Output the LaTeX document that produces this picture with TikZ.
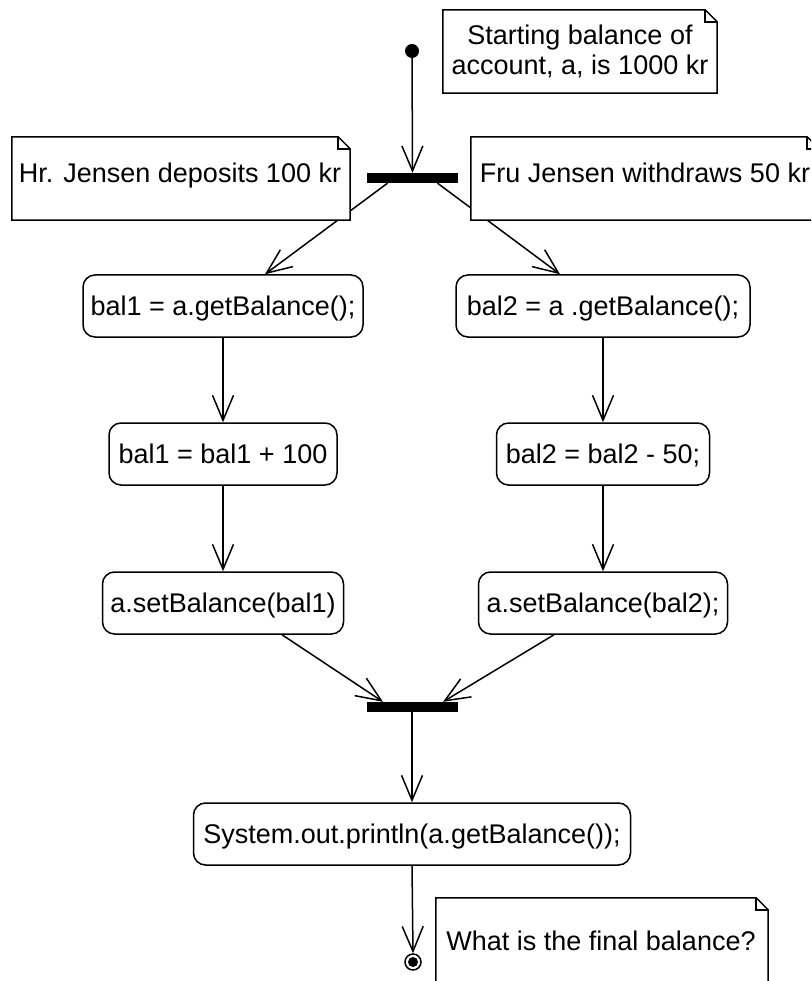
\documentclass[tikz,border=0pt]{standalone}
\usepackage{fontspec}
\setmainfont{Liberation Sans}
\usetikzlibrary{arrows.meta,calc}
\tikzset{
  ln/.style={line width=1.5pt},
  arr/.style={ln, -{Straight Barb[length=25pt,width=21pt]}},
  act/.style={draw, ln, rounded corners=12pt, minimum height=62pt, inner xsep=6pt, inner ysep=0pt, text height=19.3pt, text depth=0pt, font=\fontsize{27}{30}\selectfont},
  txt/.style={inner sep=0pt, font=\fontsize{27}{30}\selectfont},
  notearea/.style={draw=none, inner sep=0pt},
  bar/.style={fill=black, inner sep=0pt, minimum width=91pt, minimum height=10pt},
}
\newcommand{\drawnote}[1]{%
  \draw[ln, fill=white, line join=miter] (#1.north west) -- ($(#1.north east)+(-12pt,0pt)$) -- ($(#1.north east)+(0pt,-12pt)$) -- (#1.south east) -- (#1.south west) -- cycle;
  \draw[ln] ($(#1.north east)+(-12pt,0pt)$) |- ($(#1.north east)+(0pt,-12pt)$);}
\begin{document}
\begin{tikzpicture}[x=1pt,y=-1pt]
\useasboundingbox (0,0) rectangle (811,981);
\fill[white] (0,0) rectangle (811,981);
\clip (0,0) rectangle (811,981);

% control nodes
\node[circle, fill=black, inner sep=0pt, minimum size=14pt] (start) at (412,51) {};
\node[bar] (fork) at (412.5,178) {};
\node[bar] (join) at (412,707) {};
\node[circle, draw, ln, inner sep=0pt, minimum size=16pt] (end) at (413,962) {};
\fill (end.center) circle (5pt);

% actions
\node[act, minimum width=280pt] (g1) at (223,306) {bal1 = a.getBalance();};
\node[act, minimum width=294pt] (g2) at (603,306) {bal2 = a .getBalance();};
\node[act, minimum width=228pt] (b1) at (223,454) {bal1 = bal1 + 100};
\node[act, minimum width=213pt] (b2) at (603,454) {bal2 = bal2 - 50;};
\node[act, minimum width=241pt] (s1) at (223,603) {a.setBalance(bal1)};
\node[act, minimum width=249pt] (s2) at (603,603) {a.setBalance(bal2);};
\node[act, minimum width=437pt] (sys) at (412,834) {System.out.println(a.getBalance());};

% note areas
\node[notearea, minimum width=274pt, minimum height=83pt] (stn) at (580,51.5) {};
\node[notearea, minimum width=338pt, minimum height=83pt] (hrn) at (181,178.5) {};
\node[notearea, minimum width=348pt, minimum height=83pt] (frn) at (645,178.5) {};
\node[notearea, minimum width=332pt, minimum height=112pt] (fin) at (602,954) {};

% connectors
\draw[arr] (start) -- (fork.north);
\draw[arr] ([xshift=-25pt]fork.south) -- ([xshift=42pt]g1.north);
\draw[arr] ([xshift=25pt]fork.south) -- ([xshift=-43pt]g2.north);
\draw[arr] (g1) -- (b1);
\draw[arr] (g2) -- (b2);
\draw[arr] (b1) -- (s1);
\draw[arr] (b2) -- (s2);
\draw[arr] ([xshift=59pt]s1.south) -- ([xshift=-29pt]join.north);
\draw[arr] ([xshift=-49pt]s2.south) -- ([xshift=31pt]join.north);
\draw[arr] (join.south) -- (sys.north);
\draw[arr] (sys.south) -- (end.north);

% notes on top
\drawnote{stn}
\drawnote{hrn}
\drawnote{frn}
\drawnote{fin}
\node[txt, anchor=base, align=center] (stt) at (580,75) {Starting balance of\\[0pt]account, a, is 1000 kr};
\node[txt, anchor=base] (hrt) at (180,183) {Hr. Jensen deposits 100 kr};
\node[txt, anchor=base] (frt) at (645,183) {Fru Jensen withdraws 50 kr};
\node[txt, anchor=base] (fit) at (601,950) {What is the final balance?};
\end{tikzpicture}
\end{document}
